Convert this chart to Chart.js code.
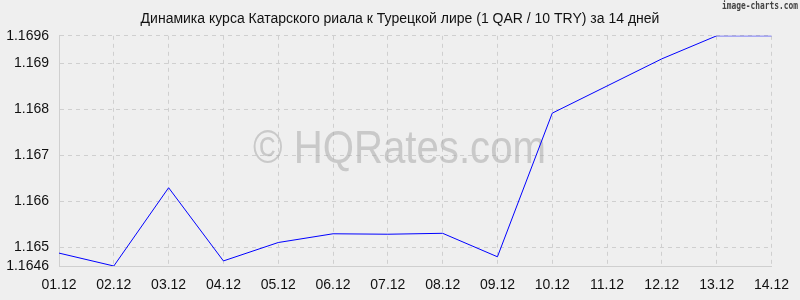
<!DOCTYPE html>
<html>
<head>
<meta charset="utf-8">
<script src="https://cdn.jsdelivr.net/npm/chart.js@4/dist/chart.umd.min.js"></script>
<style>
  html, body { margin: 0; padding: 0; background: #efefef; }
  #wrap { width: 800px; height: 300px; }
</style>
</head>
<body>
<div id="wrap"><canvas id="chart" width="800" height="300"></canvas></div>
<script>
const dates = ['01.12', '02.12', '03.12', '04.12', '05.12', '06.12', '07.12',
               '08.12', '09.12', '10.12', '11.12', '12.12', '13.12', '14.12'];
const rates = [1.16488, 1.1646, 1.1663, 1.16471, 1.16511, 1.1653, 1.16529,
               1.16531, 1.1648, 1.16792, 1.16851, 1.1691, 1.1696, 1.1696];
const yTicks = [1.1646, 1.165, 1.166, 1.167, 1.168, 1.169, 1.1696];

const FONT = '"Liberation Sans", Arial, sans-serif';
const GRID = '#cfcfcf';

// draw text squeezed to a given width
function fitText(ctx, text, cx, cy, width) {
    const w = ctx.measureText(text).width;
    ctx.translate(cx, cy);
    ctx.scale(width / w, 1);
    ctx.fillText(text, 0, 0);
}

// watermark + source label
const decor = {
    id: 'decor',
    beforeDatasetsDraw(chart) {
        const ctx = chart.ctx;
        ctx.save();
        ctx.fillStyle = 'rgba(170,170,170,0.55)';
        ctx.font = '46px ' + FONT;
        ctx.textAlign = 'center';
        ctx.textBaseline = 'alphabetic';
        fitText(ctx, '\u00A9 HQRates.com', 399.5, 163, 293);
        ctx.restore();
    },
    afterDraw(chart) {
        const ctx = chart.ctx;
        ctx.save();
        ctx.fillStyle = '#444';
        ctx.font = 'bold 11px "DejaVu Sans Mono", monospace';
        ctx.textAlign = 'center';
        ctx.textBaseline = 'middle';
        fitText(ctx, 'image-charts.com', 760, 6, 76);
        ctx.restore();
    }
};

new Chart(document.getElementById('chart'), {
    type: 'line',
    data: {
        labels: dates,
        datasets: [{
            data: rates,
            borderColor: '#0000ff',
            borderWidth: 1,
            pointRadius: 0,
            tension: 0,
            fill: false
        }]
    },
    options: {
        responsive: false,
        animation: false,
        layout: { padding: 0 },
        plugins: {
            legend: { display: false },
            tooltip: { enabled: false },
            title: {
                display: true,
                text: 'Динамика курса Катарского риала к Турецкой лире (1 QAR / 10 TRY) за 14 дней',
                color: '#111',
                font: { family: FONT, size: 14, weight: 'normal' },
                padding: { top: 11, bottom: 8 }
            }
        },
        scales: {
            x: {
                grid: { color: GRID, drawTicks: false },
                border: { color: GRID, dash: [4, 4] },
                ticks: {
                    color: '#111',
                    font: { family: FONT, size: 14 },
                    padding: 11,
                    maxRotation: 0,
                    autoSkip: false
                },
                afterFit(scale) { scale.height = 34; }
            },
            y: {
                min: 1.1646,
                max: 1.1696,
                grid: { color: GRID, drawTicks: false },
                border: { color: GRID, dash: [4, 4] },
                ticks: {
                    color: '#111',
                    font: { family: FONT, size: 14 },
                    padding: 10,
                    callback: v => String(+v.toFixed(4))
                },
                afterBuildTicks(scale) {
                    scale.ticks = yTicks.map(v => ({ value: v }));
                },
                afterFit(scale) { scale.width = 59; }
            },
            // empty right-hand gutter so the title stays centred on the page
            gutter: {
                position: 'right',
                grid: { display: false },
                border: { display: false },
                ticks: { display: false },
                afterFit(scale) { scale.width = 21; }
            }
        }
    },
    plugins: [decor]
});
</script>
</body>
</html>
